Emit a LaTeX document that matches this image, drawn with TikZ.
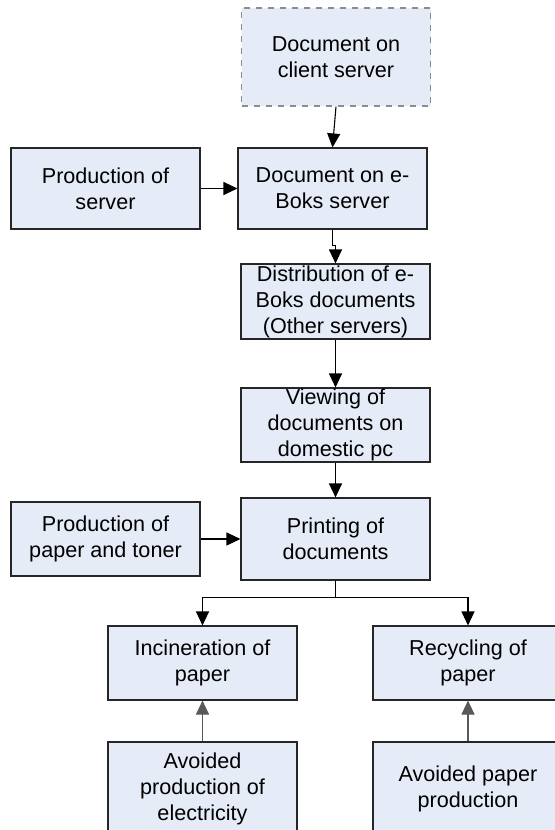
\documentclass[tikz,border=0pt]{standalone}
\usepackage{fontspec}
\setmainfont{Liberation Sans}
\usetikzlibrary{positioning, arrows.meta}
\usepackage{xcolor}
\definecolor{boxfill}{HTML}{E6ECF7}

\begin{document}
\begin{tikzpicture}[x=0.5pt, y=-0.5pt,
  procbox/.style={draw=black!85, line width=0.55pt, fill=boxfill, rectangle, align=center,
    inner sep=0pt, minimum width=94.5pt, font=\fontsize{10.8}{13}\selectfont},
  ghostbox/.style={procbox, draw=black!45, dashed},
  flow/.style={-{Triangle[length=7pt,width=6.5pt]}, line width=0.55pt}]
\clip (0,0) rectangle (555,830);
\fill[white] (0,0) rectangle (555,830);
\node[ghostbox, minimum height=49pt] (client) at (336,57) {Document on\\client server};
\node[procbox, minimum height=40.5pt] (prodserver) at (105.5,188.5) {Production of\\server};
\node[procbox, minimum height=40.5pt] (eboks) at (332.5,188.5) {Document on e-\\Boks server};
\node[procbox, minimum height=37.5pt] (distrib) at (335.5,301.5) {Distribution of e-\\Boks documents\\(Other servers)};
\node[procbox, minimum height=37pt] (viewing) at (335.5,425) {Viewing of\\documents on\\domestic pc};
\node[procbox, minimum height=41pt] (printing) at (335.5,539) {Printing of\\documents};
\node[procbox, minimum height=37pt] (prodpaper) at (105.5,539) {Production of\\paper and toner};
\node[procbox, minimum height=37pt] (incin) at (202.5,663) {Incineration of\\paper};
\node[procbox, minimum height=37pt, minimum width=95pt] (recyc) at (468,663) {Recycling of\\paper};
\node[procbox, minimum height=47pt] (avelec) at (202.5,789) {Avoided\\production of\\electricity};
\node[procbox, minimum height=47pt, minimum width=95pt] (avpaper) at (468,789) {Avoided paper\\production};
\draw[flow] (client.south) -- (eboks.north);
\draw[flow] (prodserver) -- (eboks);
\draw[flow] (eboks.south) -- ++(0,16) -| (distrib.north);
\draw[flow] (distrib) -- (viewing);
\draw[flow] (viewing) -- (printing);
\draw[flow] (prodpaper.east) -- (prodpaper.east -| printing.west);
\draw (printing.south) -- ++(0,17) coordinate (split);
\draw[flow] (split) -| (incin.north);
\draw[flow] (split) -| (recyc.north);
\draw[flow, draw=black!65] (avelec) -- (incin);
\draw[flow, draw=black!65] (avpaper) -- (recyc);
\end{tikzpicture}
\end{document}
